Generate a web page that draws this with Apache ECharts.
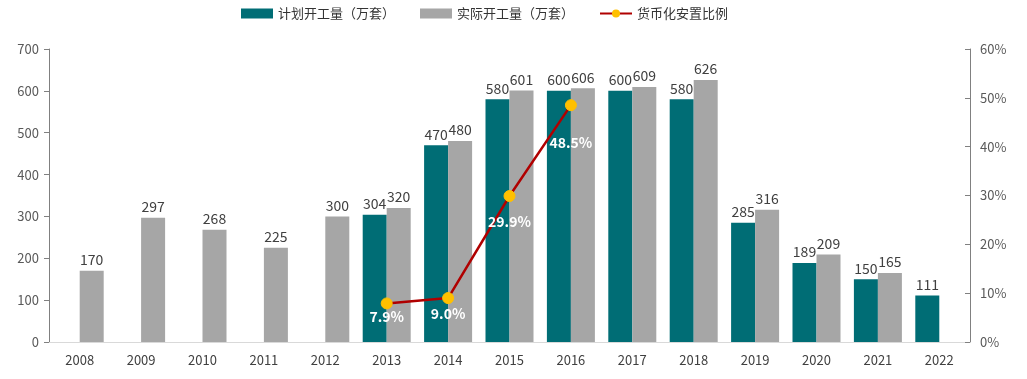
<!DOCTYPE html>
<html><head><meta charset="utf-8">
<script src="https://cdn.jsdelivr.net/npm/echarts@6/dist/echarts.min.js"></script>
<style>html,body{margin:0;padding:0;background:#fff}#c{width:1027px;height:379px}</style>
</head><body><div id="c"></div>
<script>
const years = ['2008','2009','2010','2011','2012','2013','2014','2015','2016','2017','2018','2019','2020','2021','2022'];
const planned = [null,null,null,null,null,304,470,580,600,600,580,285,189,150,111];
const actual = [170,297,268,225,300,320,480,601,606,609,626,316,209,165,null];
const ratio = [null,null,null,null,null,7.9,9.0,29.9,48.5,null,null,null,null,null,null];
const leftTicks = [0,100,200,300,400,500,600,700];
// label spacing below each ratio point (style only)
const ratioLabelGap = {5:0,6:3,7:13,8:25};
const font = '"Noto Sans CJK SC","Noto Sans",sans-serif';
const chart = echarts.init(document.getElementById('c'));
chart.setOption({
  animation:false,
  textStyle:{fontFamily:font},
  legend:{top:2,left:236,itemGap:25,itemWidth:32,itemHeight:10,
    textStyle:{fontSize:13,color:'#333',fontFamily:font},
    data:[{name:'计划开工量（万套）',icon:'rect'},{name:'实际开工量（万套）',icon:'rect'},{name:'货币化安置比例'}]},
  grid:{left:49,right:57,top:49,bottom:37},
  xAxis:{type:'category',data:years,
    axisLine:{lineStyle:{color:'#d9d9d9'}},axisTick:{show:false},
    axisLabel:{color:'#404040',fontSize:13,margin:12,fontFamily:font}},
  yAxis:[{type:'value',min:leftTicks[0],max:leftTicks[leftTicks.length-1],interval:100,
    axisLine:{show:true,lineStyle:{color:'#808080'}},axisTick:{show:true,lineStyle:{color:'#808080'},length:5},
    splitLine:{show:false},axisLabel:{color:'#595959',fontSize:13,margin:10,fontFamily:font}},
   {type:'value',min:0,max:60,interval:10,position:'right',
    axisLine:{show:true,lineStyle:{color:'#808080'}},axisTick:{show:true,inside:true,lineStyle:{color:'#808080'},length:5},
    splitLine:{show:false},axisLabel:{color:'#595959',fontSize:13,margin:10,formatter:'{value}%',fontFamily:font}}],
  series:[
    {name:'计划开工量（万套）',type:'bar',data:planned,barWidth:24,barGap:'0%',
     itemStyle:{color:'#006D75'},
     label:{show:true,position:'top',color:'#404040',fontSize:14,distance:4}},
    {name:'实际开工量（万套）',type:'bar',data:actual,barWidth:24,
     itemStyle:{color:'#A6A6A6'},
     label:{show:true,position:'top',color:'#404040',fontSize:14,distance:4}},
    {name:'货币化安置比例',type:'line',yAxisIndex:1,
     data:ratio.map((v,i)=>v==null?null:{value:v,label:{distance:ratioLabelGap[i]??6}}),
     connectNulls:false,symbol:'circle',symbolSize:11,
     lineStyle:{color:'#B00000',width:2.5},
     itemStyle:{color:'#FFC000',borderColor:'#FFC000'},
     label:{show:true,position:'bottom',distance:6,color:'#fff',fontWeight:'bold',fontSize:14,
       formatter:p=>p.value.toFixed(1)+'%'}}
  ]
});
</script></body></html>
